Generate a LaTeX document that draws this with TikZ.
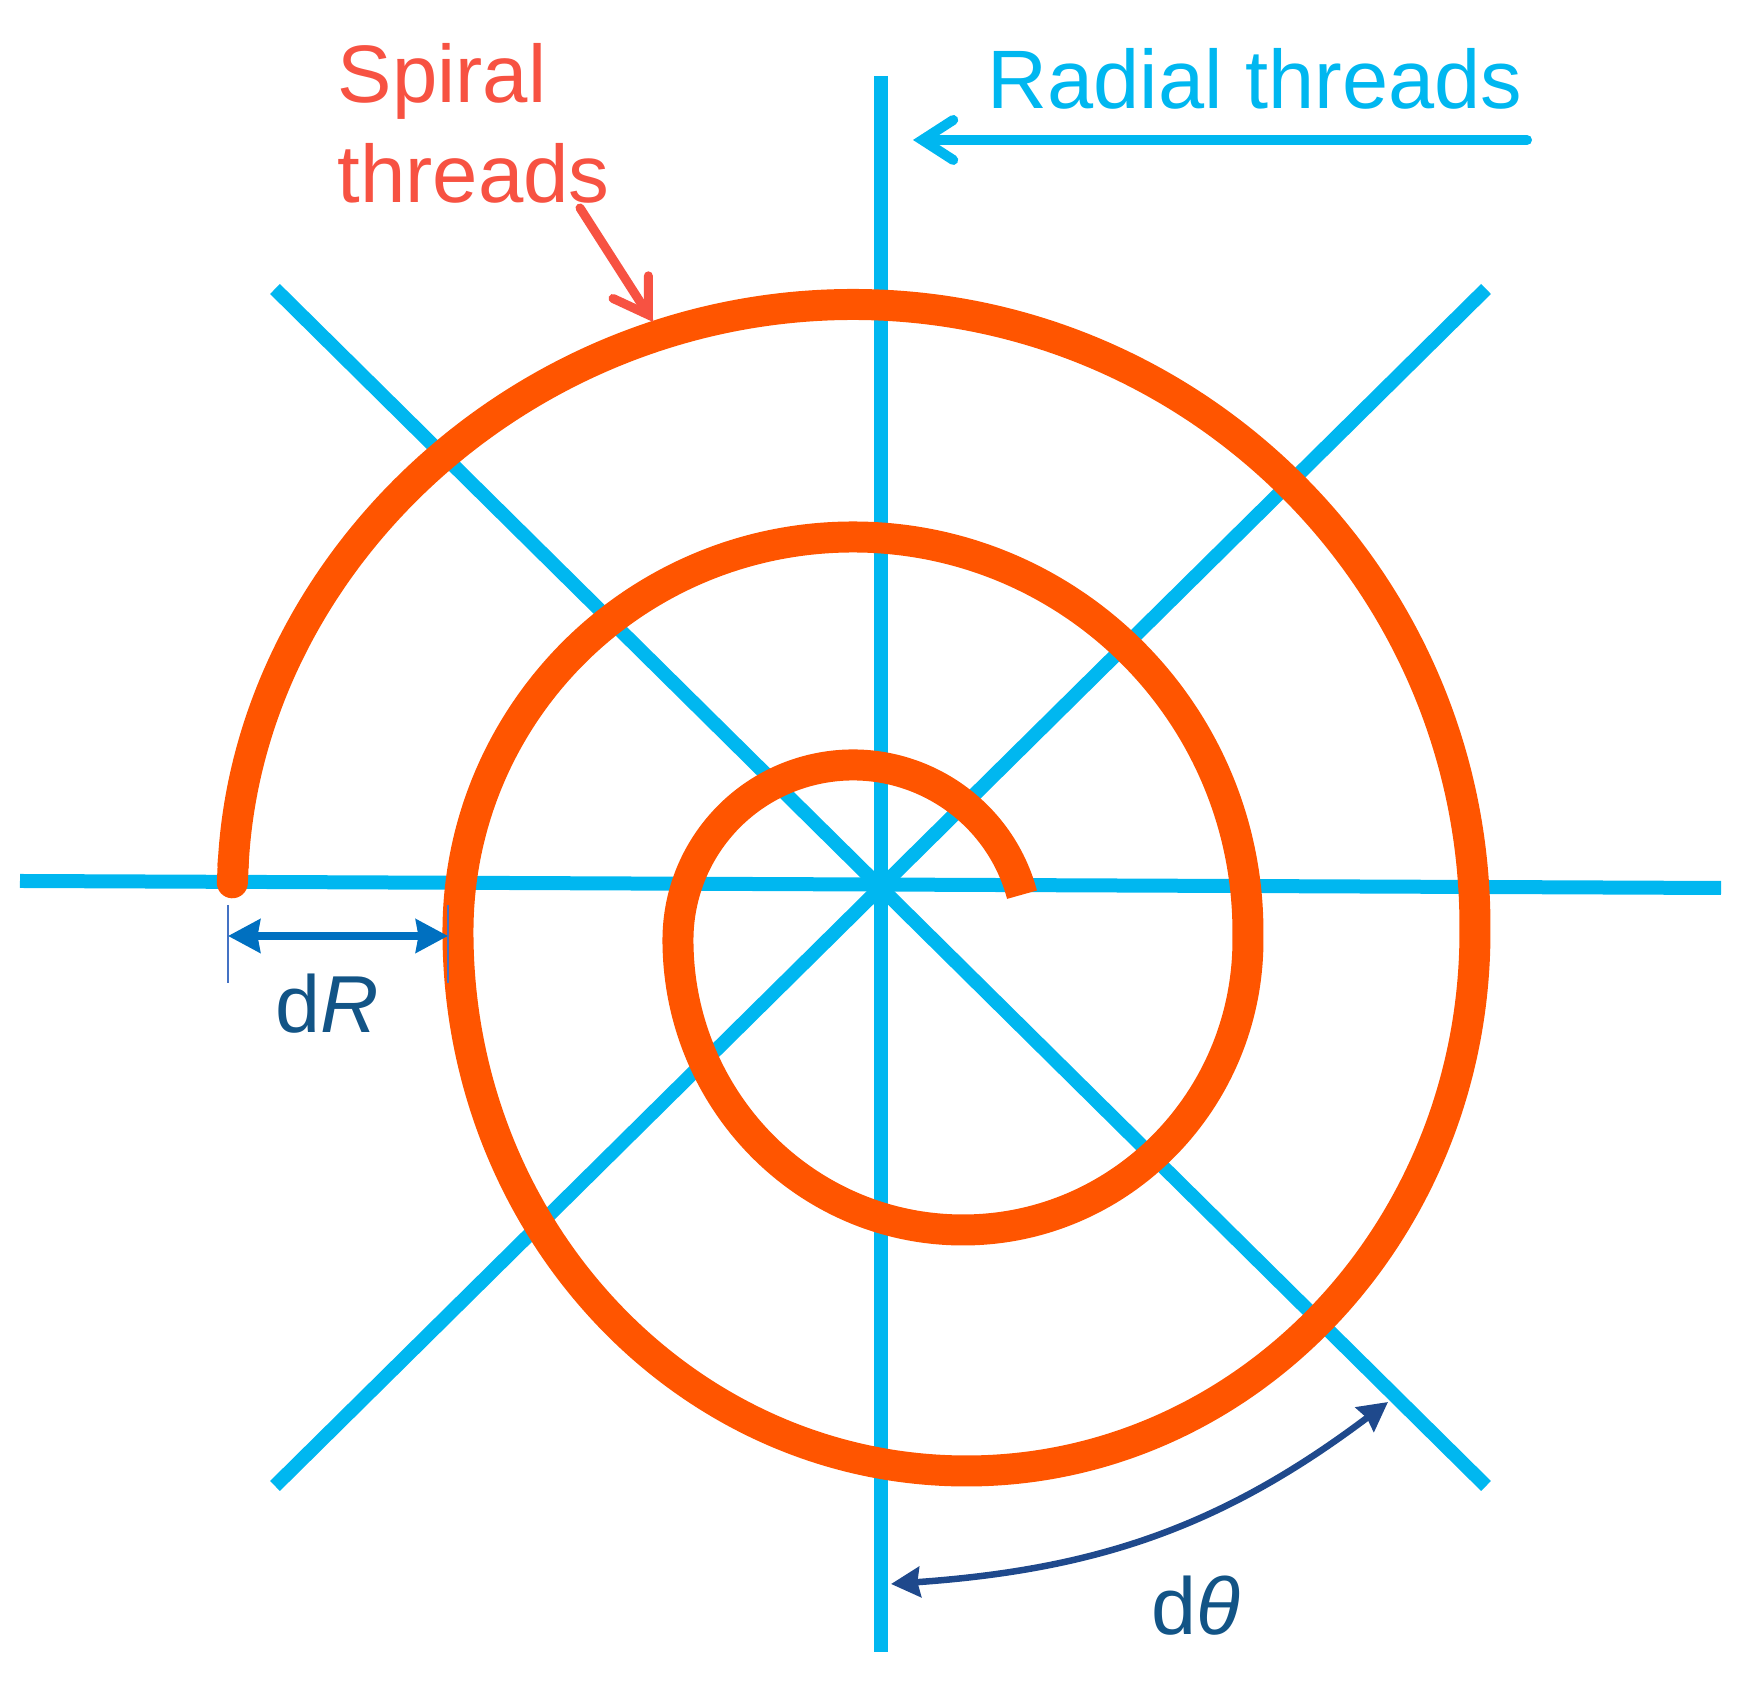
\documentclass[tikz,border=0pt]{standalone}
\usepackage{fontspec}
\setmainfont{Liberation Sans}
\usetikzlibrary{arrows.meta}
\definecolor{radialcol}{RGB}{0,183,240}
\definecolor{spiralcol}{RGB}{255,85,0}
\definecolor{spiraltxt}{RGB}{247,82,66}
\definecolor{drcol}{RGB}{0,112,192}
\definecolor{tickcol}{RGB}{68,114,196}
\definecolor{dthcol}{RGB}{31,73,140}
\definecolor{dtxt}{RGB}{18,84,134}
\tikzset{
  radialline/.style={draw=radialcol, line width=0.14cm},
  spiralline/.style={draw=spiralcol, line width=0.31cm, line cap=butt, -{Round Cap[]}},
  spiralarrow/.style={draw=spiraltxt, line width=0.09cm, line cap=round, -{Straight Barb[length=0.33cm,width=0.42cm,line cap=round]}},
  radialarrow/.style={draw=radialcol, line width=0.10cm, line cap=round, -{Straight Barb[length=0.31cm,width=0.40cm,line cap=round]}},
  drhead/.style={Stealth[length=0.32cm,width=0.33cm,inset=0.025cm]},
  drarrow/.style={draw=drcol, line width=0.08cm, {Stealth[length=0.32cm,width=0.33cm,inset=0.025cm]}-{Stealth[length=0.32cm,width=0.33cm,inset=0.025cm]}},
  tickline/.style={draw=tickcol, line width=0.025cm},
  dtharrow/.style={draw=dthcol, line width=0.065cm, {Stealth[length=0.29cm,width=0.30cm,inset=0.025cm]}-{Stealth[length=0.29cm,width=0.30cm,inset=0.025cm]}},
  bigtext/.style={inner sep=0pt, font=\fontsize{23.2}{28.45}\selectfont},
  dtext/.style={inner sep=0pt, text=dtxt, font=\fontsize{23}{27}\selectfont, anchor=base west}
}
\begin{document}
\begin{tikzpicture}
\useasboundingbox (0,0) rectangle (17.58,16.89);
% radial threads
\coordinate (C) at (8.81,8.06);
\coordinate (vtop) at (8.81,16.13);
\coordinate (vbot) at (8.81,0.37);
\coordinate (hleft) at (0.20,8.08);
\coordinate (hright) at (17.21,8.01);
\coordinate (dAa) at (2.75,14.00);
\coordinate (dAb) at (14.86,2.03);
\coordinate (dBa) at (14.86,14.00);
\coordinate (dBb) at (2.75,2.03);
\draw[radialline] (vtop) -- (vbot);
\draw[radialline] (hleft) -- (hright);
\draw[radialline] (dAa) -- (dAb);
\draw[radialline] (dBa) -- (dBb);
% spiral thread
\coordinate (sstart) at (10.220,7.943);
\draw[spiralline] (sstart)
  arc[start angle=15,end angle=180,radius=1.75]
  arc[start angle=180,end angle=360,x radius=2.85,y radius=2.90]
  -- ++(0,0.08)
  arc[start angle=0,end angle=180,radius=3.95]
  arc[start angle=180,end angle=360,x radius=5.085,y radius=5.39]
  -- ++(0,0.055)
  arc[start angle=0,end angle=177.4,radius=6.22];
% labels
\node[bigtext, text=spiraltxt, anchor=north west, align=left] (spirallbl) at (3.37,16.46) {Spiral\\threads};
\coordinate (stail) at (5.80,14.81);
\coordinate (stip) at (6.53,13.67);
\draw[spiralarrow] (stail) -- (stip);
\node[inner sep=0pt, font=\fontsize{23.6}{28}\selectfont, text=radialcol, anchor=base west] (radiallbl) at (9.87,15.80) {Radial threads};
\coordinate (rtail) at (15.27,15.49);
\coordinate (rtip) at (9.13,15.49);
\draw[radialarrow] (rtail) -- (rtip);
% dR
\coordinate (drL) at (2.28,7.53);
\coordinate (drR) at (4.48,7.53);
\coordinate (tLa) at (2.28,7.84);
\coordinate (tLb) at (2.28,7.06);
\coordinate (tRa) at (4.48,7.84);
\coordinate (tRb) at (4.48,7.06);
\draw[tickline] (tLa) -- (tLb);
\draw[tickline] (tRa) -- (tRb);
\draw[drarrow] (drL) -- (drR);
\node[dtext] (drlbl) at (2.75,6.56) {d\textit{R}};
% dtheta
\coordinate (dthL) at (8.91,1.05);
\coordinate (dthR) at (13.88,2.87);
\draw[dtharrow] (dthL) to[out=4,in=-143] (dthR);
\node[dtext] (dthlbl) at (11.51,0.54) {d\textit{θ}};
\end{tikzpicture}
\end{document}
